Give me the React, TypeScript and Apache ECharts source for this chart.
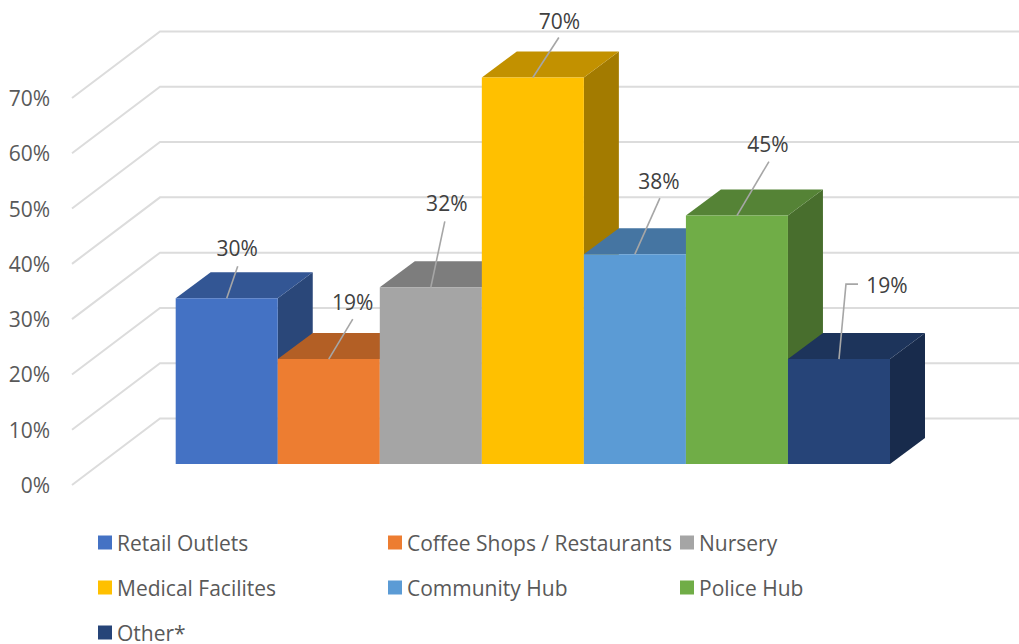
import React, { useEffect, useRef } from "react";
import * as echarts from "echarts";

const categories = [
  "Retail Outlets",
  "Coffee Shops / Restaurants",
  "Nursery",
  "Medical Facilites",
  "Community Hub",
  "Police Hub",
  "Other*",
];
const shares = [0.3, 0.19, 0.32, 0.7, 0.38, 0.45, 0.19];
const axisTicks = [0, 0.1, 0.2, 0.3, 0.4, 0.5, 0.6, 0.7];

const frontColors = ["#4472C4", "#ED7D31", "#A5A5A5", "#FFC000", "#5B9BD5", "#70AD47", "#264478"];
const topColors = ["#335694", "#B35F25", "#7D7D7D", "#C29100", "#4575A2", "#558336", "#1D345B"];
const sideColors = ["#2A4779", "#95501F", "#686868", "#A37B00", "#3A6187", "#486E2D", "#182B4C"];

// label anchor and leader geometry, as offsets from the middle of each bar's top edge
const labelOffsets = [[10.5, -50], [24, -57], [16, -84], [26.5, -57], [24, -73], [31, -71.5], [48, -74]];
const leaderPaths = [
  [[11, -32]],
  [[24, -40]],
  [[14, -66]],
  [[26, -40]],
  [[25, -56]],
  [[32, -54]],
  [[7, -75], [19, -75]],
];

const FONT = '"Open Sans", sans-serif';
const DEPTH_BAR = [35, -26];
const DEPTH_WALL = [88, -66.5];

const scale = (v: number) => Math.round(v * 100) + "%";

function barSeries(index: number) {
  return {
    name: categories[index],
    type: "custom",
    coordinateSystem: "cartesian2d",
    xAxisIndex: 0,
    yAxisIndex: 0,
    itemStyle: { color: frontColors[index] },
    encode: { x: 0, y: 1 },
    data: [[index, shares[index]]],
    z: 3,
    silent: true,
    renderItem: (_p: any, api: any) => {
      const value = api.value(1);
      const [cx, top] = api.coord([api.value(0), value]);
      const [, base] = api.coord([api.value(0), 0]);
      const w = api.size([1, 0])[0];
      const l = cx - w / 2;
      const r = cx + w / 2;
      const [dx, dy] = DEPTH_BAR;
      const [lx, ly] = labelOffsets[index];
      const leader = [[cx, top], ...leaderPaths[index].map(([x, y]) => [cx + x, top + y])];
      return {
        type: "group",
        children: [
          {
            type: "polygon",
            shape: { points: [[r, top], [r + dx, top + dy], [r + dx, base + dy], [r, base]] },
            style: { fill: sideColors[index] },
          },
          {
            type: "polygon",
            shape: { points: [[l, top], [l + dx, top + dy], [r + dx, top + dy], [r, top]] },
            style: { fill: topColors[index] },
          },
          {
            type: "rect",
            shape: { x: l, y: top, width: w, height: base - top },
            style: { fill: frontColors[index] },
          },
          {
            type: "polyline",
            shape: { points: leader },
            style: { fill: "none", stroke: "#A6A6A6", lineWidth: 1.6 },
          },
          {
            type: "text",
            x: cx + lx,
            y: top + ly,
            style: {
              text: scale(value),
              align: "center",
              verticalAlign: "middle",
              fontFamily: FONT,
              fontSize: 21,
              fill: "#404040",
            },
          },
        ],
      };
    },
  };
}

const legendRows = [
  { names: [0], left: 98, top: 532 },
  { names: [1], left: 388, top: 532 },
  { names: [2], left: 680, top: 532 },
  { names: [3], left: 98, top: 577 },
  { names: [4], left: 388, top: 577 },
  { names: [5], left: 680, top: 577 },
  { names: [6], left: 98, top: 622 },
];

export default function App() {
  const ref = useRef<HTMLDivElement>(null);
  useEffect(() => {
    document.body.style.margin = "0";
    const chart = echarts.init(ref.current!, undefined, { renderer: "svg" });
    chart.setOption({
      animation: false,
      backgroundColor: "#fff",
      textStyle: { fontFamily: FONT },
      grid: [
        { left: 175.7, right: 129, top: 77.5, bottom: 180 },
        { left: 72, right: 0, top: 98, bottom: 159 },
      ],
      xAxis: [
        { type: "category", gridIndex: 0, data: categories, show: false },
        { type: "value", gridIndex: 1, min: 0, max: 1, show: false },
      ],
      yAxis: [
        { type: "value", gridIndex: 0, min: 0, max: 0.7, interval: 0.1, show: false },
        {
          type: "value",
          gridIndex: 1,
          min: 0,
          max: 0.7,
          interval: 0.1,
          axisLine: { show: false },
          axisTick: { show: false },
          splitLine: { show: false },
          axisLabel: {
            margin: 22,
            fontFamily: FONT,
            fontSize: 21,
            color: "#595959",
            padding: [0, 0, 3, 0],
            formatter: (v: number) => scale(v),
          },
        },
      ],
      legend: legendRows.map((row) => ({
        left: row.left,
        top: row.top,
        padding: 0,
        icon: "rect",
        itemWidth: 14,
        itemHeight: 14,
        selectedMode: false,
        data: row.names.map((i) => categories[i]),
        textStyle: { fontFamily: FONT, fontSize: 21, lineHeight: 18, color: "#595959" },
      })),
      series: [
        {
          name: "gridlines",
          type: "custom",
          coordinateSystem: "cartesian2d",
          xAxisIndex: 1,
          yAxisIndex: 1,
          silent: true,
          z: 1,
          encode: { y: 0 },
          data: axisTicks.map((t) => [t]),
          renderItem: (_p: any, api: any) => {
            const v = api.value(0);
            const [x0, y0] = api.coord([0, v]);
            const [x1] = api.coord([1, v]);
            const [dx, dy] = DEPTH_WALL;
            return {
              type: "polyline",
              shape: { points: [[x0, y0], [x0 + dx, y0 + dy], [x1, y0 + dy]] },
              style: { fill: "none", stroke: "#DCDCDC", lineWidth: 2 },
            };
          },
        },
        ...categories.map((_, i) => barSeries(i)),
      ],
    });
    return () => chart.dispose();
  }, []);
  return <div ref={ref} style={{ width: 1019, height: 644 }} />;
}
